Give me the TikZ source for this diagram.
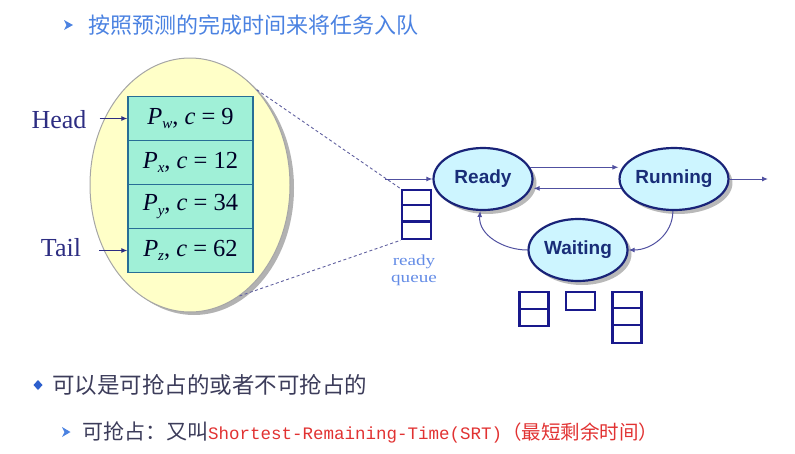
\documentclass[tikz,border=0pt]{standalone}
\usepackage{fontspec}
\setmainfont{Liberation Serif}
\setmonofont{Liberation Mono}
\newfontfamily\cjk{Noto Sans CJK SC}
\newfontfamily\arialf{Liberation Sans}
\newfontfamily\rqfont[FakeStretch=1.25]{Liberation Serif}
\usetikzlibrary{shapes.geometric,shadows,arrows.meta,calc}
\definecolor{topblue}{RGB}{75,130,225}
\definecolor{bulblue}{RGB}{45,95,205}
\definecolor{htnavy}{RGB}{45,45,130}
\definecolor{boxfill}{RGB}{160,240,215}
\definecolor{boxline}{RGB}{40,110,150}
\definecolor{ellfill}{RGB}{255,255,200}
\definecolor{stfill}{RGB}{205,245,255}
\definecolor{stline}{RGB}{25,35,120}
\definecolor{sttext}{RGB}{25,45,120}
\definecolor{conn}{RGB}{80,80,160}
\definecolor{qline}{RGB}{25,25,140}
\definecolor{rqtext}{RGB}{100,140,230}
\definecolor{bodytext}{RGB}{60,60,90}
\definecolor{srtred}{RGB}{225,50,50}
\newcommand{\pcell}[2]{{\itshape P}\raisebox{-0.4ex}{\fontsize{15}{15}\selectfont\itshape #1}, {\itshape c} = #2}
\begin{document}
\begin{tikzpicture}[x=1pt,y=-1pt,
  bigell/.style={ellipse,draw=gray!70,line width=1pt,fill=ellfill,minimum width=200pt,minimum height=254pt,inner sep=0pt,
    drop shadow={shadow xshift=4pt,shadow yshift=-3pt,fill=gray!60,opacity=1}},
  pbox/.style={draw=boxline,line width=1.3pt,fill=boxfill,minimum width=125pt,minimum height=44pt,inner sep=0pt,
    text=black!85!blue,font=\fontsize{24.5}{24.5}\selectfont},
  htlabel/.style={text=htnavy,font=\fontsize{26}{26}\selectfont,inner sep=3pt},
  htarr/.style={draw=htnavy,line width=1pt,-{Latex[length=6pt,width=5pt]}},
  state/.style={ellipse,draw=stline,line width=2.2pt,fill=stfill,minimum width=99pt,minimum height=62pt,inner sep=0pt,
    text=sttext,font=\arialf\bfseries\fontsize{19}{19}\selectfont,
    drop shadow={shadow xshift=4pt,shadow yshift=-4pt,fill=gray!55,opacity=1}},
  connarr/.style={draw=conn,line width=1pt,-{Latex[length=6pt,width=5pt]}},
  qbox/.style={draw=qline,line width=2.4pt,inner sep=0pt,minimum width=29pt},
  qsep/.style={draw=qline,line width=2.4pt},
  dashln/.style={draw=gray!75!blue,line width=0.9pt,dash pattern=on 3pt off 2.5pt},
  rqlabel/.style={text=rqtext,font=\rqfont\fontsize{15.3}{15.3}\selectfont,inner sep=0pt,anchor=base},
  cjktxt/.style={anchor=west,inner sep=0pt}
]
\useasboundingbox (0,0) rectangle (795,453);

% top bullet line
\fill[topblue] (64,20) -- (73,25) -- (64,30) -- (66.5,25) -- cycle;
\node[cjktxt,text=topblue,font=\cjk\fontsize{22}{22}\selectfont] (toptxt) at (88,25) {按照预测的完成时间来将任务入队};

% big ellipse with queue
\node[bigell] (big) at (190,185) {};
\node[pbox] (pw) at (190.5,118.5) {\pcell{w}{9}};
\node[pbox] (px) at (190.5,162.5) {\pcell{x}{12}};
\node[pbox] (py) at (190.5,206.5) {\pcell{y}{34}};
\node[pbox] (pz) at (190.5,250.5) {\pcell{z}{62}};

\node[htlabel] (head) at (59,120) {Head};
\node[htlabel] (tail) at (61,248) {Tail};
\draw[htarr] ([xshift=10pt]head.east |- pw.west) -- (pw.west);
\draw[htarr] ([xshift=15pt]tail.east |- pz.west) -- (pz.west);

% ready queue
\node[qbox,minimum height=49pt] (rq) at (416.5,214.5) {};
\draw[qsep] ($(rq.north west)+(0,16.3)$) -- ++(29,0);
\draw[qsep] ($(rq.north west)+(0,32.6)$) -- ++(29,0);
\node[rqlabel] (rqlbl1) at (414,265) {ready};
\node[rqlabel] (rqlbl2) at (414,282.5) {queue};

% dashed zoom lines
\draw[dashln] (big.55) -- (rq.north west);
\draw[dashln] (big.-66) -- (rq.south west);

% states
\node[state] (ready) at (483,179) {Ready};
\node[state] (run) at (674,179) {Running};
\node[state] (wait) at (578,250) {Waiting};

\coordinate (inpt) at (385,179);
\coordinate (outpt) at (768,179);
\draw[connarr] (inpt) -- (ready.west);
\draw[connarr] (run.east) -- (outpt);
\draw[connarr] (ready.14) -- (ready.14 -| run.west);
\draw[connarr] (run.190) -- (run.190 -| ready.east);
\draw[connarr] (run.-92) to[out=-90,in=0] (wait.east);
\draw[connarr] (wait.west) to[out=180,in=-95] (ready.-95);

% waiting queues
\node[qbox,minimum height=34pt] (wq1) at (534,309) {};
\draw[qsep] (wq1.west) -- (wq1.east);
\node[qbox,minimum height=18pt] (wq2) at (580.5,301) {};
\node[qbox,minimum height=51pt] (wq3) at (627,317.5) {};
\draw[qsep] ($(wq3.north west)+(0,17)$) -- ++(30,0);
\draw[qsep] ($(wq3.north west)+(0,34)$) -- ++(30,0);

% bottom bullets
\fill[bulblue] (38,380) -- (42.5,385) -- (38,390) -- (33.5,385) -- cycle;
\node[cjktxt,text=bodytext,font=\cjk\fontsize{22.5}{22.5}\selectfont] (line1) at (52,385) {可以是可抢占的或者不可抢占的};
\fill[topblue] (62,427) -- (70.5,432) -- (62,437) -- (64.5,432) -- cycle;
\node[cjktxt,font=\cjk\fontsize{21}{21}\selectfont] (line2) at (82,432) {\textcolor{bodytext}{可抢占：又叫}\textcolor{srtred}{\ttfamily\fontsize{17.5}{17.5}\selectfont Shortest-Remaining-Time(SRT)}\textcolor{srtred}{\fontsize{19.5}{19.5}\selectfont （最短剩余时间）}};
\end{tikzpicture}
\end{document}
